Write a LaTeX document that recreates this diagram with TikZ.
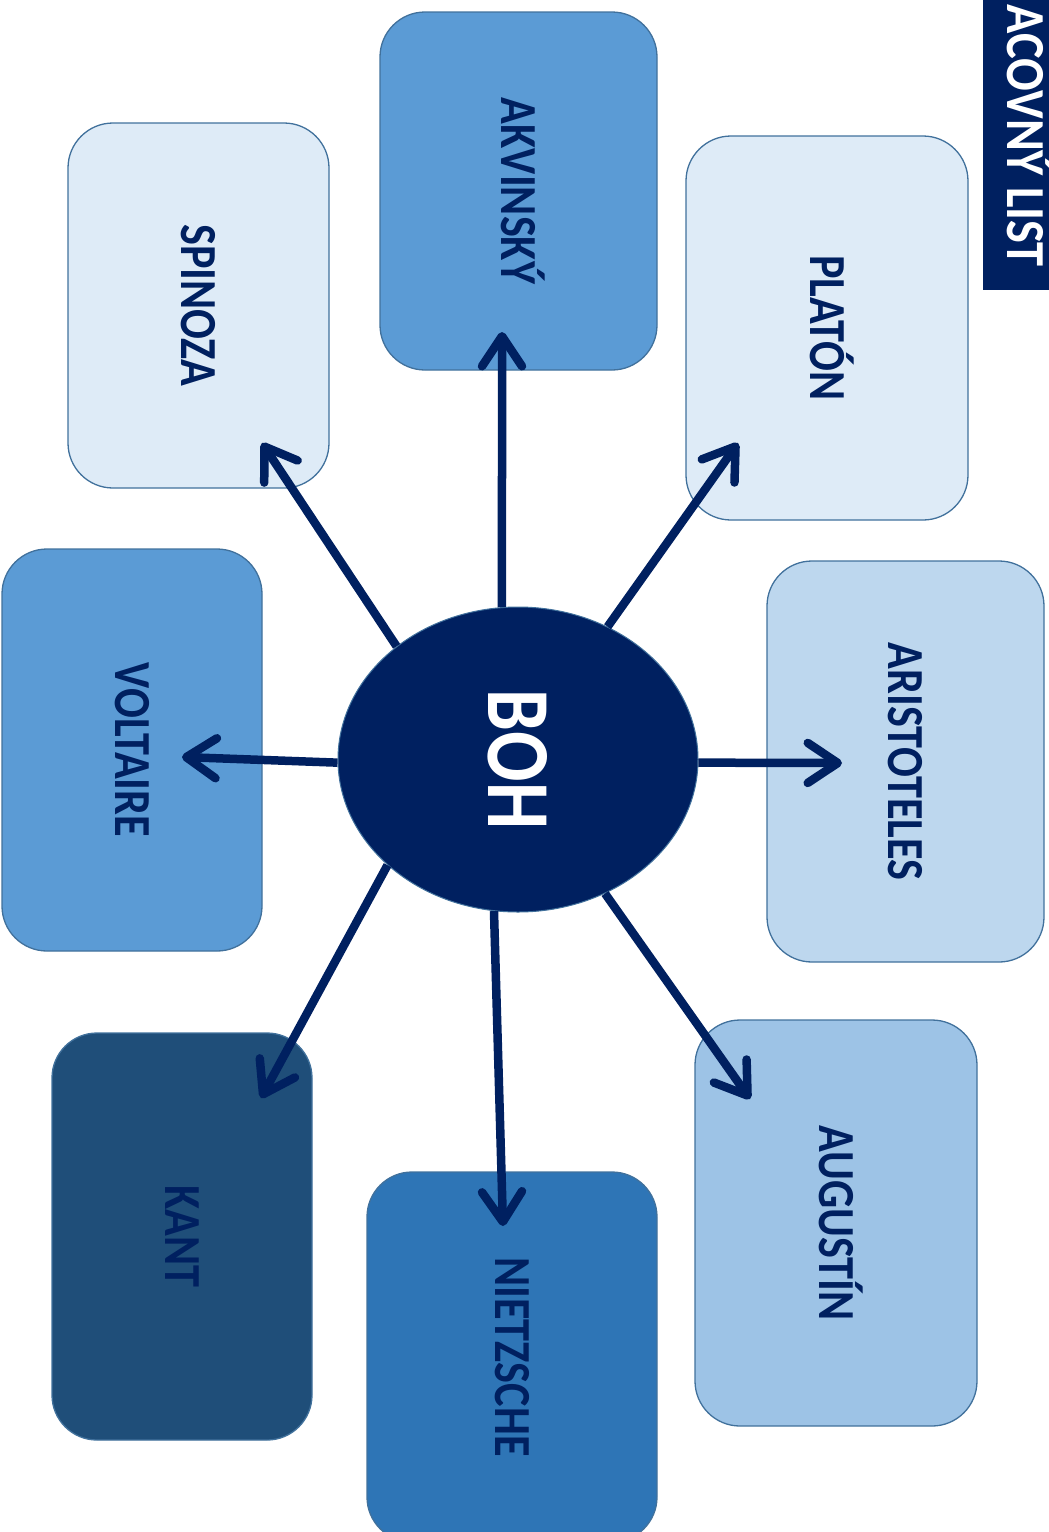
\documentclass[tikz,border=0pt]{standalone}
\usepackage{fontspec}
\setmainfont{Carlito}
\usepackage{graphicx}
\usetikzlibrary{arrows.meta,shapes.geometric}
\definecolor{navy}{HTML}{002060}
\definecolor{boxline}{HTML}{41719C}
\definecolor{cA}{HTML}{5B9BD5}
\definecolor{cL}{HTML}{DEEBF7}
\definecolor{cM}{HTML}{BDD7EE}
\definecolor{cN}{HTML}{9DC3E6}
\definecolor{cD}{HTML}{2E75B6}
\definecolor{cK}{HTML}{1F4E79}
\newcommand\vlbl[2][0.85]{\rotatebox{-90}{\scalebox{#1}[1]{\raisebox{0pt}[\fontcharht\font`A][0pt]{#2}}}}
\begin{document}
\begin{tikzpicture}[x=1pt,y=-1pt,
  box/.style={draw=boxline,line width=1.3pt,rounded corners=45pt,inner sep=0pt,text=navy,
    font=\fontsize{52}{52}\selectfont\bfseries},
  conn/.style={draw=navy,line width=8.5pt,-{Straight Barb[length=30pt,width=40pt,round]}},
]
\useasboundingbox (0,0) rectangle (1049,1532);
\clip (0,0) rectangle (1049,1532);

% boxes
\node[box,fill=cA,minimum width=277pt,minimum height=358pt] (akv) at (518.5,191) {\vlbl{AKVINSKÝ}};
\node[box,fill=cL,minimum width=261pt,minimum height=365pt] (spi) at (198.5,305.5) {\vlbl{SPINOZA}};
\node[box,fill=cL,minimum width=282pt,minimum height=384pt] (pla) at (827,328) {\vlbl{PLATÓN}};
\node[box,fill=cA,minimum width=260pt,minimum height=402pt] (vol) at (132,750) {\vlbl{VOLTAIRE}};
\node[box,fill=cM,minimum width=277pt,minimum height=401pt] (ari) at (905.5,761.5) {\vlbl{ARISTOTELES}};
\node[box,fill=cK,minimum width=260pt,minimum height=407pt] (kan) at (182,1236.5) {\vlbl{KANT}};
\node[box,fill=cD,minimum width=290pt,minimum height=370pt] (nie) at (512,1357) {\vlbl{NIETZSCHE}};
\node[box,fill=cN,minimum width=282pt,minimum height=406pt] (aug) at (836,1223) {\vlbl{AUGUSTÍN}};

% title
\fill[navy] (983,-5) rectangle (1060,290);
\node[anchor=south,inner sep=0pt,text=white,font=\fontsize{55}{55}\selectfont\bfseries] (title) at (1025.5,267) {\vlbl[0.88]{ACOVNÝ LIST}};

% center
\node[ellipse,fill=navy,draw=boxline,line width=1pt,minimum width=360pt,minimum height=305pt,inner sep=0pt,
  text=white,font=\fontsize{90}{90}\selectfont\bfseries] (boh) at (518,759.5) {\vlbl[0.83]{BOH}};

% tips
\coordinate (t1) at (502,332);
\coordinate (t2) at (262,443);
\coordinate (t3) at (738,443);
\coordinate (t4) at (182,757);
\coordinate (t5) at (842,763);
\coordinate (t6) at (261,1098);
\coordinate (t7) at (503,1226);
\coordinate (t8) at (750,1099);

\draw[conn] (boh.96) -- (t1);
\draw[conn] (boh.137) -- (t2);
\draw[conn] (boh.56.6) -- (t3);
\draw[conn] (boh.181) -- (t4);
\draw[conn] (boh.359) -- (t5);
\draw[conn] (boh.219) -- (t6);
\draw[conn] (boh.261.7) -- (t7);
\draw[conn] (boh.303.9) -- (t8);
\end{tikzpicture}
\end{document}
